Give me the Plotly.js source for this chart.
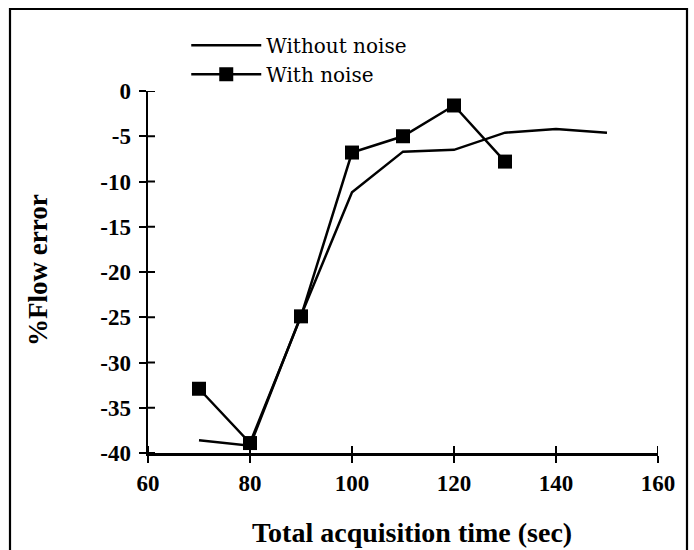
<!DOCTYPE html>
<html>
<head>
<meta charset="utf-8">
<script src="https://cdn.plot.ly/plotly-3.0.1.min.js"></script>
<style>html,body{margin:0;padding:0;background:#fff;}#chart{width:694px;height:550px;}</style>
</head>
<body>
<div id="chart"></div>
<script>
var timeWithout = [70, 80, 90, 100, 110, 120, 130, 140, 150];
var errWithout = [-38.6, -39.2, -24.8, -11.2, -6.7, -6.5, -4.6, -4.2, -4.6];
var timeWith = [70, 80, 90, 100, 110, 120, 130];
var errWith = [-32.9, -38.9, -24.9, -6.8, -5.0, -1.6, -7.8];
var xTicks = [60, 80, 100, 120, 140, 160];
var yTicks = [0, -5, -10, -15, -20, -25, -30, -35, -40];
var xTitle = 'Total acquisition time (sec)';
var yTitle = '%Flow error';

var tickFont = {family: 'Liberation Serif', size: 23, color: '#000', weight: 'bold'};
var titleFont = {family: 'Liberation Serif', size: 28, color: '#000', weight: 'bold'};

var traces = [
  {x: timeWithout, y: errWithout, name: 'Without noise', mode: 'lines',
   line: {color: '#000', width: 2.5}},
  {x: timeWith, y: errWith, name: 'With noise', mode: 'lines+markers',
   line: {color: '#000', width: 2.5},
   marker: {symbol: 'square', size: 14, color: '#000'}}
];

// inner half of the crossing tick marks, placed at the tick values
var innerTicks = [];
xTicks.forEach(function (v) {
  innerTicks.push({type: 'line', xref: 'x', yref: 'paper', x0: v, x1: v, y0: 0, y1: 7 / 362,
                   line: {color: '#000', width: 2}});
});
yTicks.forEach(function (v) {
  innerTicks.push({type: 'line', xref: 'paper', yref: 'y', x0: 0, x1: 7 / 510, y0: v, y1: v,
                   line: {color: '#000', width: 2}});
});

var layout = {
  width: 694, height: 550,
  margin: {l: 148, r: 36, t: 91, b: 97},
  paper_bgcolor: '#fff', plot_bgcolor: '#fff',
  showlegend: true,
  legend: {x: 0.075, y: 1.18, xanchor: 'left', yanchor: 'top',
           font: {family: 'DejaVu Serif', size: 20, color: '#000'},
           bgcolor: 'rgba(0,0,0,0)', itemwidth: 70, tracegroupgap: 0},
  xaxis: {range: [60, 160], tickvals: xTicks, ticktext: xTicks.map(String),
          showgrid: false, zeroline: false, showline: true, linecolor: '#000', linewidth: 2.5,
          ticks: 'outside', ticklen: 7, tickwidth: 2, tickcolor: '#000',
          tickfont: tickFont, ticklabelstandoff: 1},
  yaxis: {range: [-40, 0], tickvals: yTicks, ticktext: yTicks.map(String),
          showgrid: false, zeroline: false, showline: true, linecolor: '#000', linewidth: 2.5,
          ticks: 'outside', ticklen: 7, tickwidth: 2, tickcolor: '#000',
          tickfont: tickFont, ticklabelstandoff: 3},
  annotations: [
    {text: xTitle, xref: 'paper', yref: 'paper', x: (412 - 148) / 510, y: (453 - 532) / 362,
     xanchor: 'center', yanchor: 'middle', showarrow: false, font: titleFont},
    {text: yTitle, xref: 'paper', yref: 'paper', x: (38 - 148) / 510, y: (453 - 270) / 362,
     xanchor: 'center', yanchor: 'middle', showarrow: false, textangle: -90,
     font: {family: 'Liberation Serif', size: 27, color: '#000', weight: 'bold'}}
  ],
  shapes: [
    {type: 'rect', xref: 'paper', yref: 'paper',
     x0: (10 - 148) / 510, x1: (687 - 148) / 510,
     y0: (453 - 556) / 362, y1: (453 - 9) / 362,
     line: {color: '#000', width: 2.2}, fillcolor: 'rgba(0,0,0,0)'}
  ].concat(innerTicks)
};

Plotly.newPlot('chart', traces, layout, {displayModeBar: false, staticPlot: true});
</script>
</body>
</html>
